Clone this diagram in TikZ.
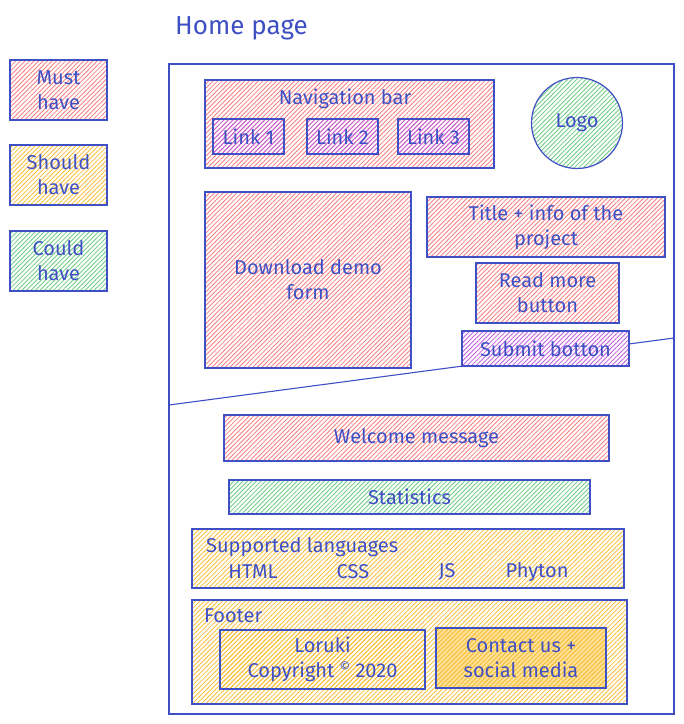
\documentclass[tikz,border=0pt]{standalone}
\usepackage{fontspec}
\setmainfont{Fira Sans}
\usetikzlibrary{patterns.meta}
\definecolor{ink}{RGB}{62,80,196}
\definecolor{redh}{RGB}{250,128,128}
\definecolor{yelh}{RGB}{250,192,60}
\definecolor{grnh}{RGB}{110,205,130}
\definecolor{purh}{RGB}{195,95,225}
\definecolor{orbg}{RGB}{255,226,150}
\definecolor{orh}{RGB}{246,184,48}
\tikzset{
  box/.style={draw=ink, line width=1.2pt, text=ink, font=\fontsize{20}{25}\selectfont,
    align=center, inner sep=0pt},
  hatch/.style={pattern={Lines[angle=45,distance=3.2pt,line width=0.85pt]}, pattern color=#1},
  must/.style={hatch=redh},
  should/.style={hatch=yelh},
  could/.style={hatch=grnh},
  purp/.style={hatch=purh},
  lbl/.style={text=ink, font=\fontsize{20}{25}\selectfont, inner sep=0pt},
  pageframe/.style={draw=ink, line width=1.2pt, inner sep=0pt},
}
\begin{document}
\begin{tikzpicture}[x=1pt,y=-1pt]
\useasboundingbox (0,0) rectangle (684,724);
\fill[white] (0,0) rectangle (684,724);

% legend
\node[box,must,minimum width=97pt,minimum height=60pt] (lmust) at (58.5,90) {Must\\have};
\node[box,should,minimum width=97pt,minimum height=60pt] (lshould) at (58.5,175) {Should\\have};
\node[box,could,minimum width=97pt,minimum height=60pt] (lcould) at (58.5,261) {Could\\have};

% title
\node[lbl,font=\fontsize{26}{30}\selectfont,anchor=west] (title) at (175,28) {Home page};

% page frame
\node[pageframe,minimum width=505pt,minimum height=650pt] (page) at (421.5,389) {};
\coordinate (divl) at (169,405);
\coordinate (divr) at (674,338);
\draw[ink,line width=1.1pt] (divl) -- (divr);

% navigation
\node[box,must,minimum width=289pt,minimum height=88pt] (nav) at (349.5,124) {};
\node[lbl] (navt) at (345,99) {Navigation bar};
\node[box,purp,minimum width=71pt,minimum height=35pt] (l1) at (248.5,136.5) {Link 1};
\node[box,purp,minimum width=71pt,minimum height=35pt] (l2) at (342.5,136.5) {Link 2};
\node[box,purp,minimum width=71pt,minimum height=35pt] (l3) at (433.5,136.5) {Link 3};

% logo
\node[box,could,circle,minimum size=91pt] (logo) at (577,123) {Logo};

% upper content
\node[box,must,minimum width=206pt,minimum height=176pt] (dl) at (308,280) {Download demo\\form};
\node[box,must,minimum width=238pt,minimum height=60pt] (info) at (546,227) {Title + info of the\\project};
\node[box,must,minimum width=143pt,minimum height=60pt] (read) at (547.5,293) {Read more\\button};
\node[box,purp,preaction={fill=white},minimum width=167pt,minimum height=35pt] (submit) at (545.5,348.5) {Submit botton};

% lower content
\node[box,must,minimum width=385pt,minimum height=46pt] (welcome) at (416.5,438) {Welcome message};
\node[box,could,minimum width=361pt,minimum height=34pt] (stats) at (409.5,497) {Statistics};

\node[box,should,minimum width=432pt,minimum height=59pt] (langs) at (408,558.5) {};
\node[lbl,anchor=west] (langst) at (206,547) {Supported languages};
\node[lbl] (html) at (253,572) {HTML};
\node[lbl] (css) at (353,572) {CSS};
\node[lbl] (js) at (447,572) {JS};
\node[lbl] (py) at (537,572) {Phyton};

\node[box,should,minimum width=435pt,minimum height=104pt] (footer) at (409.5,652) {};
\node[lbl,anchor=west] (footert) at (204,616) {Footer};
\node[box,should,minimum width=205pt,minimum height=59pt] (copy) at (322.5,659.5) {Loruki\\Copyright \raisebox{0.6ex}{\fontsize{13}{13}\selectfont ©} 2020};
\node[box,hatch=orh,preaction={fill=orbg},minimum width=170pt,minimum height=60pt] (contact) at (521,658) {Contact us +\\social media};
\end{tikzpicture}
\end{document}
